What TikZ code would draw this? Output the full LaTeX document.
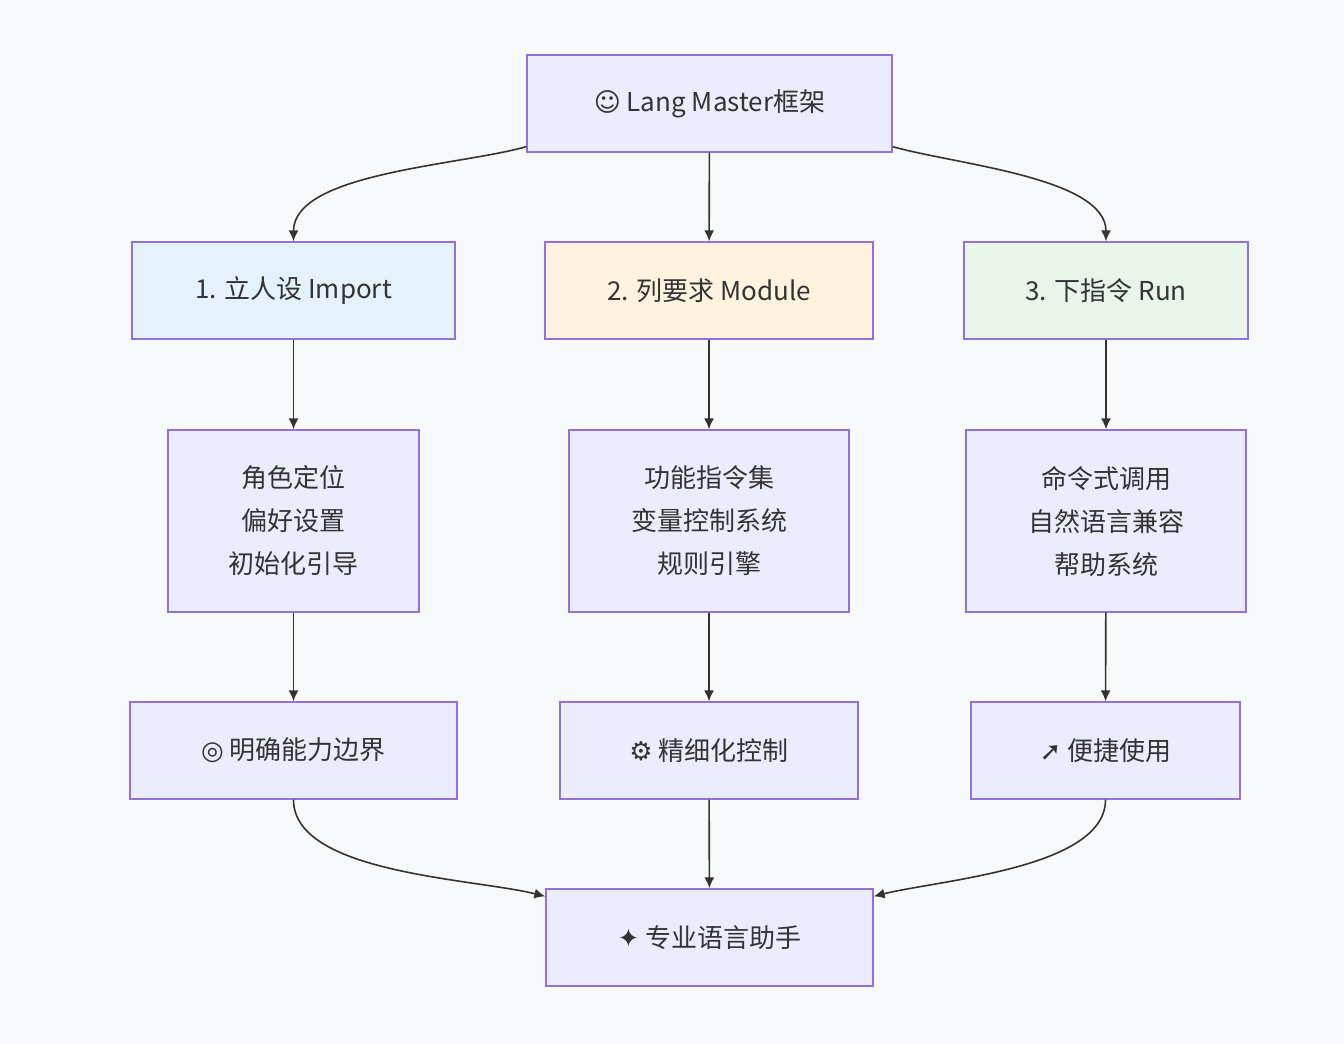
\documentclass[tikz,border=0pt]{standalone}
\usepackage{fontspec}
\setmainfont{Noto Sans CJK SC}
\newfontfamily\emo{DejaVu Sans}
\usetikzlibrary{arrows.meta}
\definecolor{boxfill}{HTML}{ECECFF}
\definecolor{boxline}{HTML}{9370DB}
\definecolor{edgecol}{HTML}{333333}
\definecolor{bgcol}{HTML}{F8F9FB}
\definecolor{importfill}{HTML}{E3F2FD}
\definecolor{modulefill}{HTML}{FFF3E0}
\definecolor{runfill}{HTML}{E8F5E9}
\begin{document}
\begin{tikzpicture}[x=1pt,y=1pt,
  box/.style={draw=boxline,fill=boxfill,line width=1.3pt,minimum height=97pt,
    align=center,font=\fontsize{26}{43}\selectfont,text=edgecol},
  edge/.style={-{Latex[length=11pt,width=10pt]},draw=edgecol,line width=1.6pt}]
  \fill[bgcol] (0,0) rectangle (1344,1044);
  \useasboundingbox (0,0) rectangle (1344,1044);
  % top
  \node[box,minimum width=365pt] (lang) at (709.5,940.5) {{\emo ☺} Lang Master框架};
  % steps
  \node[box,minimum width=323pt,fill=importfill] (imp) at (293.5,753.5) {1. 立人设 Import};
  \node[box,minimum width=328pt,fill=modulefill] (mod) at (709,753.5) {2. 列要求 Module};
  \node[box,minimum width=284pt,fill=runfill] (run) at (1106,753.5) {3. 下指令 Run};
  % details
  \node[box,minimum width=251pt,minimum height=182pt] (role) at (293.5,523) {角色定位\\偏好设置\\初始化引导};
  \node[box,minimum width=280pt,minimum height=182pt] (func) at (709,523) {功能指令集\\变量控制系统\\规则引擎};
  \node[box,minimum width=280pt,minimum height=182pt] (cmd) at (1106,523) {命令式调用\\自然语言兼容\\帮助系统};
  % results
  \node[box,minimum width=327pt] (bound) at (293.5,293.5) {{\emo ◎} 明确能力边界};
  \node[box,minimum width=298pt] (ctrl) at (709,293.5) {{\emo ⚙} 精细化控制};
  \node[box,minimum width=269pt] (easy) at (1105.5,293.5) {{\emo ➚} 便捷使用};
  \node[box,minimum width=327pt] (help) at (709.5,106.5) {{\emo ✦} 专业语言助手};
  % edges
  \draw[edge] ([yshift=6pt]lang.south west) to[out=196,in=90,looseness=0.7] (imp.north);
  \draw[edge] (lang) -- (mod);
  \draw[edge] ([yshift=6pt]lang.south east) to[out=-16,in=90,looseness=0.7] (run.north);
  \draw[edge] (imp) -- (role);
  \draw[edge] (mod) -- (func);
  \draw[edge] (run) -- (cmd);
  \draw[edge] (role) -- (bound);
  \draw[edge] (func) -- (ctrl);
  \draw[edge] (cmd) -- (easy);
  \draw[edge] (bound.south) to[out=-90,in=166,looseness=0.7] ([yshift=-8pt]help.north west);
  \draw[edge] (ctrl) -- (help);
  \draw[edge] (easy.south) to[out=-90,in=14,looseness=0.7] ([yshift=-8pt]help.north east);
\end{tikzpicture}
\end{document}
